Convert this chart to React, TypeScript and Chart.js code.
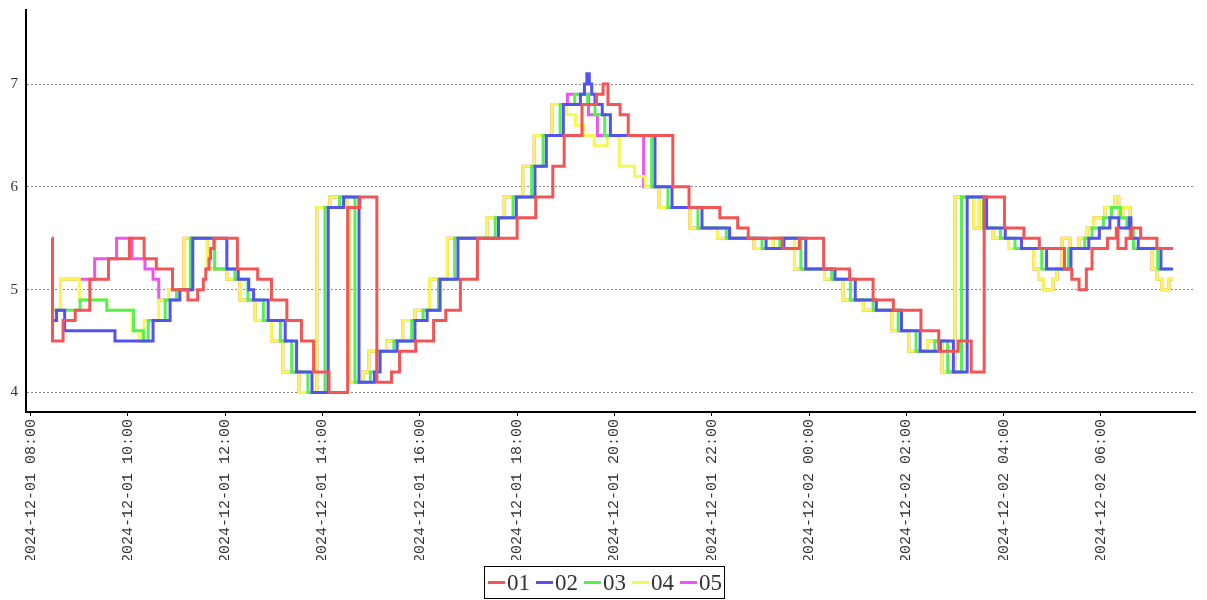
import React, { useEffect, useRef } from 'react';
import { Chart, registerables } from 'chart.js';

Chart.register(...registerables);

// Series names and colours
const seriesNames = ['01', '02', '03', '04', '05'];
const seriesColors = ['#f25555', '#5252ee', '#55f055', '#f8f855', '#ee55ee'];

// Time axis: minutes elapsed since 2024-12-01 08:00
const xMin = -5.7;
const xMax = 1436;
const xTickOffsets = [0, 120, 240, 360, 480, 600, 720, 840, 960, 1080, 1200, 1320];
const xTickLabels = [
  '2024-12-01 08:00', '2024-12-01 10:00', '2024-12-01 12:00', '2024-12-01 14:00',
  '2024-12-01 16:00', '2024-12-01 18:00', '2024-12-01 20:00', '2024-12-01 22:00',
  '2024-12-02 00:00', '2024-12-02 02:00', '2024-12-02 04:00', '2024-12-02 06:00',
];
const yMin = 3.81;
const yMax = 7.72;
const yTicks = [4, 5, 6, 7];

// [minutes since 08:00, value] — each value holds until the next point
const s01: [number, number][] = [
  [26, 5.5], [27, 4.5], [40, 4.7], [55, 4.8], [73, 5.1], [96, 5.3], [122, 5.5], [140, 5.3], [155, 5.2], [175, 5.0],
  [194, 4.9], [206, 5.0], [213, 5.1], [216, 5.2], [220, 5.3], [222, 5.4], [226, 5.5], [255, 5.2], [280, 5.1], [297, 4.9],
  [316, 4.7], [334, 4.5], [349, 4.2], [368, 4.0], [391, 5.8], [406, 5.9], [427, 4.1], [445, 4.2], [455, 4.4], [475, 4.5],
  [497, 4.7], [512, 4.8], [530, 5.1], [551, 5.5], [600, 5.7], [623, 5.9], [644, 6.2], [658, 6.5], [680, 6.8], [698, 6.9],
  [706, 7.0], [712, 6.8], [727, 6.7], [737, 6.5], [792, 6.0], [812, 5.8], [850, 5.7], [872, 5.6], [885, 5.5], [927, 5.4],
  [948, 5.5], [978, 5.2], [1010, 5.1], [1039, 4.9], [1064, 4.8], [1098, 4.6], [1120, 4.4], [1144, 4.5], [1160, 4.2], [1176, 5.9],
  [1201, 5.6], [1225, 5.5], [1244, 5.4], [1275, 5.2], [1284, 5.1], [1293, 5.0], [1302, 5.2], [1309, 5.4], [1328, 5.5], [1339, 5.6],
  [1341, 5.4], [1351, 5.5], [1358, 5.6], [1369, 5.5], [1389, 5.4], [1409, 5.4],
];

const s02: [number, number][] = [
  [28, 4.7], [32, 4.8], [42, 4.6], [104, 4.5], [151, 4.7], [172, 4.9], [184, 5.0], [200, 5.5], [242, 5.2], [256, 5.1],
  [269, 5.0], [275, 4.9], [293, 4.7], [314, 4.5], [328, 4.2], [347, 4.0], [367, 5.8], [386, 5.9], [405, 4.1], [424, 4.2],
  [431, 4.4], [452, 4.5], [474, 4.7], [489, 4.8], [505, 5.1], [527, 5.5], [577, 5.7], [599, 5.9], [622, 6.2], [636, 6.5],
  [657, 6.8], [678, 6.9], [683, 7.0], [686, 7.1], [689, 7.0], [692, 6.9], [696, 6.8], [705, 6.7], [715, 6.5], [770, 6.0],
  [791, 5.8], [828, 5.6], [862, 5.5], [907, 5.4], [929, 5.5], [956, 5.2], [992, 5.1], [1017, 4.9], [1043, 4.8], [1074, 4.6],
  [1097, 4.4], [1122, 4.5], [1138, 4.2], [1155, 5.9], [1179, 5.6], [1202, 5.5], [1222, 5.4], [1253, 5.2], [1283, 5.4], [1305, 5.5],
  [1318, 5.6], [1331, 5.7], [1342, 5.6], [1355, 5.7], [1357, 5.5], [1366, 5.4], [1394, 5.2], [1409, 5.2],
];

const s03: [number, number][] = [
  [29, 4.8], [61, 4.9], [94, 4.8], [127, 4.6], [139, 4.5], [145, 4.7], [166, 4.9], [180, 5.0], [197, 5.5], [227, 5.2],
  [252, 5.1], [268, 4.9], [287, 4.7], [308, 4.5], [322, 4.2], [342, 4.0], [363, 5.8], [381, 5.9], [400, 4.1], [419, 4.2],
  [427, 4.4], [448, 4.5], [470, 4.7], [484, 4.8], [503, 5.1], [523, 5.5], [573, 5.7], [595, 5.9], [618, 6.2], [632, 6.5],
  [653, 6.8], [671, 6.9], [687, 6.8], [696, 6.7], [708, 6.5], [766, 6.0], [786, 5.8], [823, 5.6], [858, 5.5], [902, 5.4],
  [924, 5.5], [950, 5.2], [988, 5.1], [1011, 4.9], [1039, 4.8], [1070, 4.6], [1092, 4.4], [1115, 4.5], [1131, 4.2], [1148, 5.9],
  [1175, 5.6], [1196, 5.5], [1214, 5.4], [1247, 5.2], [1280, 5.4], [1300, 5.5], [1309, 5.6], [1323, 5.7], [1333, 5.8], [1344, 5.7],
  [1352, 5.6], [1360, 5.4], [1390, 5.2], [1405, 5.2],
];

const s04: [number, number][] = [
  [29, 4.8], [37, 5.1], [60, 4.9], [94, 4.8], [125, 4.6], [134, 4.5], [140, 4.7], [158, 4.9], [170, 5.0], [189, 5.5],
  [218, 5.2], [242, 5.1], [258, 4.9], [277, 4.7], [297, 4.5], [311, 4.2], [331, 4.0], [353, 5.8], [369, 5.9], [390, 5.8],
  [393, 4.1], [410, 4.2], [417, 4.4], [439, 4.5], [459, 4.7], [474, 4.8], [492, 5.1], [514, 5.5], [563, 5.7], [584, 5.9],
  [607, 6.2], [621, 6.5], [643, 6.8], [661, 6.7], [672, 6.6], [682, 6.5], [695, 6.4], [711, 6.5], [726, 6.2], [745, 6.1],
  [758, 6.0], [775, 5.8], [813, 5.6], [847, 5.5], [892, 5.4], [916, 5.5], [942, 5.2], [979, 5.1], [1002, 4.9], [1027, 4.8],
  [1062, 4.6], [1083, 4.4], [1106, 4.5], [1124, 4.2], [1140, 5.9], [1163, 5.6], [1170, 5.9], [1176, 5.6], [1187, 5.5], [1206, 5.4],
  [1237, 5.2], [1243, 5.1], [1249, 5.0], [1261, 5.1], [1266, 5.2], [1272, 5.5], [1282, 5.4], [1293, 5.5], [1303, 5.6], [1311, 5.7],
  [1325, 5.8], [1337, 5.9], [1342, 5.7], [1347, 5.8], [1356, 5.5], [1361, 5.4], [1383, 5.2], [1389, 5.1], [1395, 5.0], [1404, 5.1],
  [1409, 5.1],
];

const s05: [number, number][] = [
  [29, 4.8], [37, 5.1], [79, 5.3], [106, 5.5], [125, 5.3], [141, 5.2], [151, 5.1], [158, 4.9], [170, 5.0], [189, 5.5],
  [218, 5.2], [242, 5.1], [258, 4.9], [277, 4.7], [297, 4.5], [311, 4.2], [331, 4.0], [353, 5.8], [369, 5.9], [390, 5.8],
  [393, 4.1], [410, 4.2], [417, 4.4], [439, 4.5], [459, 4.7], [474, 4.8], [492, 5.1], [514, 5.5], [563, 5.7], [584, 5.9],
  [607, 6.2], [621, 6.5], [643, 6.8], [662, 6.9], [688, 6.7], [699, 6.5], [756, 6.0], [775, 5.8], [813, 5.6], [847, 5.5],
  [892, 5.4], [916, 5.5], [942, 5.2], [979, 5.1], [1002, 4.9], [1027, 4.8], [1062, 4.6], [1083, 4.4], [1106, 4.5], [1124, 4.2],
  [1140, 5.9], [1163, 5.6], [1170, 5.9], [1176, 5.6], [1187, 5.5], [1206, 5.4], [1237, 5.2], [1243, 5.1], [1249, 5.0], [1261, 5.1],
  [1266, 5.2], [1272, 5.5], [1282, 5.4], [1293, 5.5], [1303, 5.6], [1311, 5.7], [1325, 5.8], [1337, 5.9], [1342, 5.7], [1347, 5.8],
  [1356, 5.5], [1361, 5.4], [1383, 5.2], [1389, 5.1], [1395, 5.0], [1404, 5.1], [1409, 5.1],
];

const allSeries = [s01, s02, s03, s04, s05];

// Legend drawn as a boxed row under the axis labels
const boxedLegend = {
  id: 'boxedLegend',
  afterDraw(chart: any) {
    const ctx = chart.ctx as CanvasRenderingContext2D;
    const sets = chart.data.datasets as any[];
    ctx.save();
    ctx.font = '23px "Liberation Serif", serif';
    const lineW = 17;
    const gap = 2;
    const itemGap = 6;
    const pad = 3;
    const widths = sets.map((d) => lineW + gap + ctx.measureText(d.label).width);
    const total = widths.reduce((a, b) => a + b, 0) + itemGap * (sets.length - 1) + pad * 2;
    const h = 32;
    const top = chart.height - h - 2;
    const left = Math.round(chart.width / 2 - total / 2);
    ctx.strokeStyle = '#000';
    ctx.lineWidth = 1;
    ctx.strokeRect(left + 0.5, top + 0.5, Math.round(total), h);
    const cy = top + h / 2 + 0.5;
    let x = left + pad + 1;
    sets.forEach((d, i) => {
      ctx.strokeStyle = d.borderColor;
      ctx.lineWidth = 3;
      ctx.beginPath();
      ctx.moveTo(x, cy);
      ctx.lineTo(x + lineW, cy);
      ctx.stroke();
      ctx.fillStyle = '#333';
      ctx.textBaseline = 'middle';
      ctx.textAlign = 'left';
      ctx.fillText(d.label, x + lineW + gap, cy + 1);
      x += widths[i] + itemGap;
    });
    ctx.restore();
  },
};

export default function App() {
  const ref = useRef<HTMLCanvasElement>(null);

  useEffect(() => {
    const canvas = ref.current;
    if (!canvas) return;
    const chart = new Chart(canvas, {
      type: 'line',
      data: {
        datasets: allSeries.map((s, i) => ({
          label: seriesNames[i],
          data: s.map(([t, v]) => ({ x: t, y: v })),
          borderColor: seriesColors[i],
          backgroundColor: seriesColors[i],
          borderWidth: 3,
          pointRadius: 0,
          pointHoverRadius: 0,
          stepped: true,
          fill: false,
          tension: 0,
          borderJoinStyle: 'miter',
          borderCapStyle: 'butt',
        })),
      },
      options: {
        animation: false,
        responsive: true,
        maintainAspectRatio: false,
        layout: { padding: { left: 0, top: 10, right: 12, bottom: 40 } },
        plugins: { legend: { display: false }, tooltip: { enabled: false } },
        scales: {
          x: {
            type: 'linear',
            min: xMin,
            max: xMax,
            afterBuildTicks: (s: any) => {
              s.ticks = xTickOffsets.map((v) => ({ value: v }));
            },
            afterFit: (s: any) => {
              s.height = 148;
              s.paddingLeft = 0;
              s.paddingRight = 0;
            },
            ticks: {
              autoSkip: false,
              minRotation: 90,
              maxRotation: 90,
              padding: 3,
              color: '#333',
              font: { family: '"Liberation Mono", monospace', size: 15 },
              callback: (v: any) => xTickLabels[xTickOffsets.indexOf(Number(v))] ?? '',
            },
            grid: { drawOnChartArea: false, drawTicks: true, tickLength: 4, color: '#000' },
            border: { color: '#000', width: 2 },
          },
          y: {
            min: yMin,
            max: yMax,
            afterBuildTicks: (s: any) => {
              s.ticks = yTicks.map((v) => ({ value: v }));
            },
            afterFit: (s: any) => {
              s.width = 26;
              s.paddingTop = 0;
              s.paddingBottom = 0;
            },
            ticks: {
              padding: 8,
              color: '#333',
              font: { family: '"Liberation Serif", serif', size: 15 },
              callback: (v: any) => String(v),
            },
            grid: { color: '#888', drawTicks: false, lineWidth: 1 },
            border: { color: '#000', width: 2, dash: [2, 2] },
          },
        },
      },
      plugins: [boxedLegend],
    } as any);
    return () => chart.destroy();
  }, []);

  return (
    <div style={{ position: 'absolute', left: 0, top: 0, width: 1207, height: 600 }}>
      <canvas ref={ref} />
    </div>
  );
}
